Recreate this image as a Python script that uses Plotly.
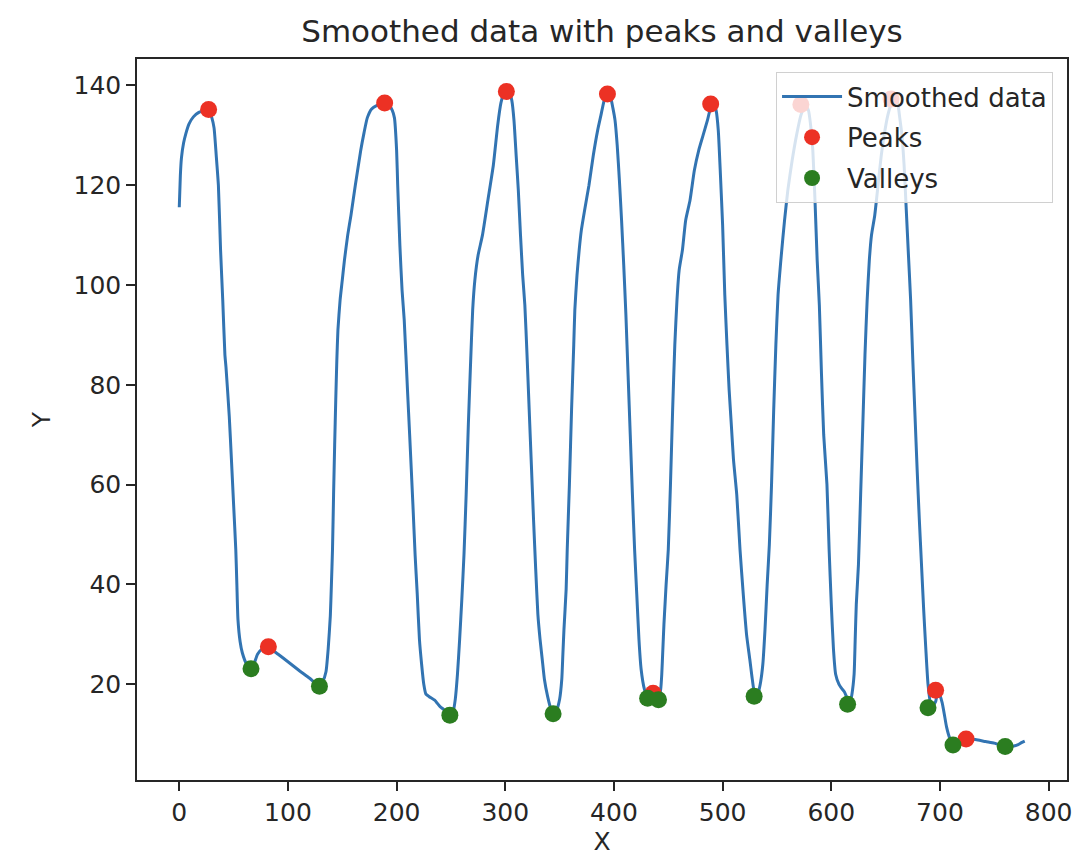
import plotly.graph_objects as go

# Smoothed signal (sample index, value)
smooth_x = [
    0, 1, 2, 4, 6, 9, 13, 18, 23, 27, 30, 32, 34, 36, 38, 40, 42, 43, 46, 48,
    50, 52, 53, 54, 56, 58, 62, 66, 69, 72, 76, 82, 86, 91, 100, 110, 120, 129,
    132, 135, 137, 139, 140, 141, 142, 143, 144, 145, 146, 148, 150, 152, 155,
    158, 162, 167, 170, 173, 177, 182, 189, 193, 196, 198, 200, 201, 203, 205,
    207, 210, 212, 215, 217, 219, 221, 223, 225, 227, 230, 235, 240, 243, 246,
    249, 252, 254, 256, 258, 260, 262, 264, 266, 268, 270, 272, 275, 279, 284,
    289, 293, 296, 299, 301, 304, 306, 308, 310, 312, 314, 316, 318, 320, 322,
    324, 326, 328, 330, 332, 334, 336, 339, 342, 344, 347, 350, 352, 353, 354,
    356, 357, 359, 361, 363, 364, 366, 368, 370, 373, 377, 381, 385, 388, 391,
    394, 397, 399, 401, 403, 405, 407, 409, 411, 413, 415, 417, 419, 421, 423,
    425, 428, 431, 433, 436, 439, 441, 443, 444, 445, 446, 447, 448, 450, 452,
    454, 456, 458, 460, 463, 466, 470, 474, 478, 482, 486, 489, 492, 494, 496,
    498, 500, 502, 504, 506, 508, 510, 513, 516, 519, 522, 525, 527, 529, 531,
    533, 535, 537, 539, 541, 543, 545, 547, 549, 551, 554, 557, 560, 564, 568,
    572, 576, 579, 581, 583, 585, 587, 589, 591, 593, 596, 598, 600, 602, 604,
    607, 609, 612, 615, 617, 619, 621, 622, 623, 625, 627, 629, 631, 633, 635,
    637, 640, 643, 646, 649, 652, 655, 658, 661, 663, 665, 667, 669, 671, 673,
    675, 677, 679, 681, 683, 685, 687, 689, 692, 696, 698, 700, 702, 704, 706,
    709, 712, 716, 720, 724, 728, 735, 742, 750, 755, 760, 764, 768, 772, 775,
    778,
]
smooth_y = [
    115.6, 122.0, 125.5, 128.5, 130.3, 132.3, 133.7, 134.6, 135.0, 135.2, 133.5,
    131.5, 126.0, 120.0, 107.0, 97.0, 86.0, 83.5, 73.7, 65.0, 56.0, 47.0, 40.0,
    33.0, 28.5, 26.3, 24.0, 23.1, 24.2, 26.0, 27.0, 27.5, 26.8, 26.0, 24.5, 22.8,
    21.2, 19.6, 20.5, 22.5, 27.0, 33.7, 40.0, 47.0, 58.0, 68.0, 77.0, 85.0, 91.0,
    97.0, 101.0, 105.0, 110.0, 114.0, 120.0, 127.0, 130.5, 133.5, 135.3, 136.0,
    136.5, 136.0, 135.0, 133.5, 127.0, 120.0, 108.0, 99.0, 93.0, 79.0, 70.0,
    56.0, 46.0, 38.0, 29.0, 24.0, 20.0, 18.0, 17.5, 16.8, 15.5, 15.0, 14.2, 13.8,
    14.5, 17.0, 22.0, 29.0, 37.0, 46.0, 58.0, 72.0, 84.0, 95.0, 101.0, 106.0,
    110.0, 117.0, 124.0, 132.0, 136.5, 138.5, 138.8, 138.5, 137.0, 133.0, 126.0,
    119.0, 110.0, 102.0, 96.0, 86.0, 75.0, 64.0, 53.0, 43.0, 34.0, 29.0, 25.0,
    21.0, 17.5, 15.0, 14.1, 14.7, 17.0, 21.0, 26.0, 31.0, 39.0, 47.0, 60.0, 75.0,
    88.0, 95.0, 102.0, 107.0, 111.0, 115.0, 120.0, 126.0, 131.0, 134.0, 137.0,
    138.3, 137.5, 135.5, 133.0, 128.0, 121.0, 113.0, 104.0, 94.0, 82.0, 70.0,
    58.0, 47.0, 38.0, 29.0, 23.0, 19.0, 17.2, 17.8, 18.2, 17.5, 16.9, 19.0, 22.0,
    27.0, 32.0, 36.0, 40.0, 47.0, 60.0, 75.0, 88.0, 97.0, 103.0, 107.0, 113.0,
    117.0, 123.0, 127.0, 130.0, 133.0, 135.5, 136.3, 135.0, 131.0, 122.0, 112.0,
    98.0, 88.0, 79.0, 72.0, 65.0, 58.0, 47.0, 38.0, 30.0, 25.0, 21.5, 18.5, 17.6,
    18.5, 20.5, 24.0, 31.0, 40.0, 48.0, 60.0, 75.0, 88.0, 98.0, 106.0, 113.0,
    119.0, 125.0, 130.0, 134.0, 136.2, 135.0, 132.0, 127.0, 117.0, 105.0, 96.0,
    82.0, 70.0, 60.0, 47.0, 36.0, 27.0, 22.0, 20.0, 19.3, 18.5, 17.0, 16.0, 18.0,
    22.0, 29.0, 36.0, 44.0, 58.0, 72.0, 86.0, 97.0, 105.0, 110.0, 114.0, 120.0,
    126.0, 130.5, 134.0, 136.2, 137.3, 136.5, 133.5, 130.0, 124.0, 115.0, 106.0,
    97.0, 85.0, 74.0, 63.0, 53.0, 44.0, 35.0, 27.0, 20.0, 15.3, 16.5, 18.8, 17.8,
    16.3, 14.0, 11.5, 9.2, 8.2, 7.8, 8.2, 8.7, 9.0, 8.8, 8.5, 8.2, 7.8, 7.6, 7.5,
    7.6, 7.9, 8.3, 8.6, 8.9,
]

# Detected local maxima
peak_x = [27, 82, 189, 301, 394, 436, 489, 572, 655, 696, 724]
peak_y = [135.2, 27.5, 136.5, 138.8, 138.3, 18.2, 136.3, 136.2, 137.3, 18.8, 9.0]

# Detected local minima
valley_x = [66, 129, 249, 344, 431, 441, 529, 615, 689, 712, 760]
valley_y = [23.1, 19.6, 13.8, 14.1, 17.2, 16.9, 17.6, 16.0, 15.3, 7.8, 7.5]

x_ticks = [0, 100, 200, 300, 400, 500, 600, 700, 800]
y_ticks = [20, 40, 60, 80, 100, 120, 140]

FONT = "DejaVu Sans"
INK = "#262626"

fig = go.Figure()
fig.add_trace(go.Scatter(
    x=smooth_x, y=smooth_y, mode="lines", name="Smoothed data",
    line=dict(color="#3274b2", width=3, shape="spline", smoothing=0.5),
    legendgroup="a",
))
fig.add_trace(go.Scatter(
    x=peak_x, y=peak_y, mode="markers", name="Peaks",
    marker=dict(color="#ec3124", size=17), legendgroup="b",
))
fig.add_trace(go.Scatter(
    x=valley_x, y=valley_y, mode="markers", name="Valleys",
    marker=dict(color="#2b7d20", size=17), legendgroup="c",
))

axis_common = dict(
    showgrid=False, zeroline=False, showline=True, mirror=True,
    linecolor=INK, linewidth=1.5, ticks="outside", ticklen=9, tickwidth=1.5,
    tickcolor=INK, tickfont=dict(family=FONT, size=25, color=INK),
    automargin=False,
)

fig.update_layout(
    width=1076, height=856,
    margin=dict(l=137, r=9, t=59, b=76),
    paper_bgcolor="white", plot_bgcolor="white",
    font=dict(family=FONT, color=INK),
    title=dict(
        text="Smoothed data with peaks and valleys",
        font=dict(family=FONT, size=31, color=INK),
        x=0.5, xref="paper", xanchor="center",
        y=1 - 31 / 856, yref="container", yanchor="middle",
    ),
    xaxis=dict(
        range=[-38.9, 816.9], tickvals=x_ticks,
        title=dict(text="X", font=dict(family=FONT, size=25, color=INK), standoff=24),
        **axis_common,
    ),
    yaxis=dict(
        range=[0.8, 145.3], tickvals=y_ticks,
        title=dict(text="Y", font=dict(family=FONT, size=25, color=INK), standoff=16),
        **axis_common,
    ),
    legend=dict(
        x=0.985, xanchor="right", y=0.982, yanchor="top",
        bgcolor="rgba(255,255,255,0.8)", bordercolor="#d0d0d0", borderwidth=1,
        font=dict(family=FONT, size=26, color=INK),
        itemwidth=60, tracegroupgap=4,
    ),
    showlegend=True,
)

fig.write_html("out.html")
